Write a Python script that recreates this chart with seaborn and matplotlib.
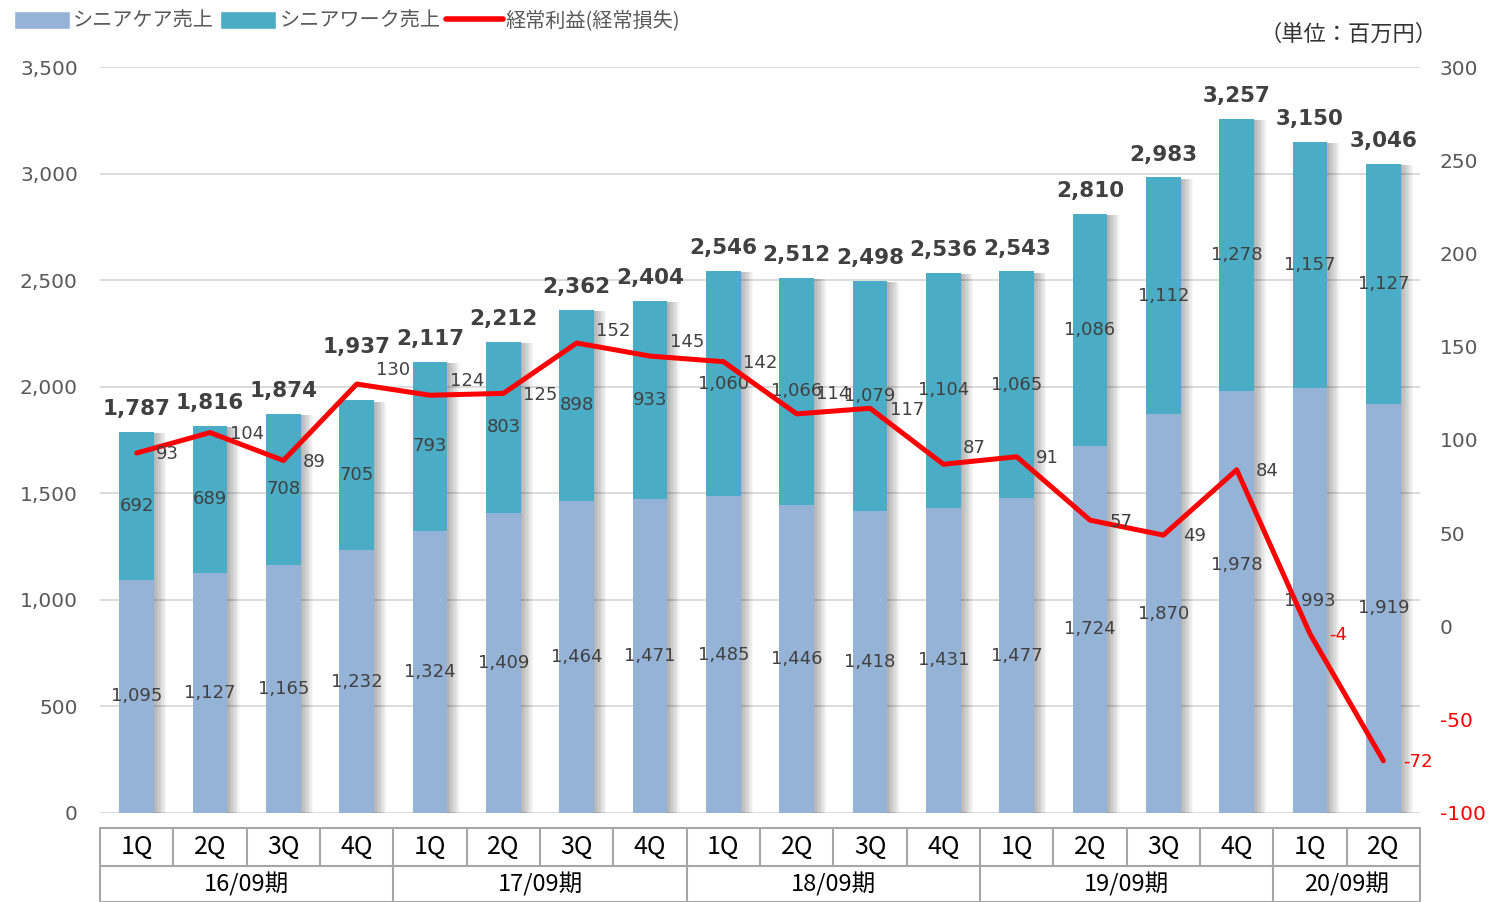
import numpy as np
import pandas as pd
import matplotlib.pyplot as plt
import matplotlib.patheffects as pe
from matplotlib.patches import Patch
from matplotlib.lines import Line2D
import seaborn as sns

# データ（単位：百万円）
quarters = ['1Q', '2Q', '3Q', '4Q'] * 4 + ['1Q', '2Q']
periods = ['16/09期', '17/09期', '18/09期', '19/09期', '20/09期']
period_len = [4, 4, 4, 4, 2]
care = [1095, 1127, 1165, 1232, 1324, 1409, 1464, 1471, 1485,
        1446, 1418, 1431, 1477, 1724, 1870, 1978, 1993, 1919]
work = [692, 689, 708, 705, 793, 803, 898, 933, 1060,
        1066, 1079, 1104, 1065, 1086, 1112, 1278, 1157, 1127]
total = [1787, 1816, 1874, 1937, 2117, 2212, 2362, 2404, 2546,
         2512, 2498, 2536, 2543, 2810, 2983, 3257, 3150, 3046]
profit = [93, 104, 89, 130, 124, 125, 152, 145, 142,
          114, 117, 87, 91, 57, 49, 84, -4, -72]

sns.set_style('white')
plt.rcParams['font.family'] = ['Noto Sans CJK JP', 'DejaVu Sans']

C_CARE = '#95B3D7'
C_WORK = '#4BACC6'
C_TXT = '#404040'
C_TICK = '#595959'
NUM = 'DejaVu Sans'

df = pd.DataFrame({'idx': range(len(care)), 'care': care, 'work': work})
df['stack'] = df['care'] + df['work']

fig = plt.figure(figsize=(14.89, 9.02), dpi=100)
ax = fig.add_axes([0.0672, 0.0987, 0.8865, 0.827])

# 積み上げ棒（合計をワーク色で描き、その上にケアを重ねる）
sns.barplot(data=df, x='idx', y='stack', color=C_WORK, saturation=1,
            width=0.47, linewidth=0, edgecolor='none', ax=ax)
shadow = [pe.SimplePatchShadow(offset=(k, -1), shadow_rgbFace='k', alpha=0.035)
          for k in range(1, 10)] + [pe.Normal()]
for p in ax.patches:
    p.set_path_effects(shadow)
sns.barplot(data=df, x='idx', y='care', color=C_CARE, saturation=1,
            width=0.47, linewidth=0, edgecolor='none', ax=ax)

ax.set_ylim(0, 3500)
ax.set_xlim(-0.5, len(care) - 0.5)
ax.set_yticks(range(0, 3501, 500))
ax.set_yticklabels([f'{v:,}' for v in range(0, 3501, 500)], family=NUM)
ax.tick_params(axis='y', length=0, pad=16, labelsize=14.5, labelcolor=C_TICK)
ax.tick_params(axis='x', length=0, labelbottom=False)
ax.set_xlabel('')
ax.set_ylabel('')
ax.yaxis.grid(True, color='#D9D9D9', lw=1.3)
ax.set_axisbelow(True)
for s in ax.spines.values():
    s.set_visible(False)

# 棒のラベル
care_lift = {15: 27}
total_lift = {3: 22}
for i in range(len(care)):
    ax.annotate(f'{care[i]:,}', (i, care[i] / 2), xytext=(0, care_lift.get(i, 0)),
                textcoords='offset points', ha='center', va='center',
                fontsize=13, color=C_TXT, family=NUM)
    ax.text(i, care[i] + work[i] / 2, f'{work[i]:,}', ha='center', va='center',
            fontsize=13, color=C_TXT, family=NUM)
    ax.annotate(f'{total[i]:,}', (i, care[i] + work[i]),
                xytext=(0, 12 + total_lift.get(i, 0)),
                textcoords='offset points', ha='center', va='baseline',
                fontsize=15.5, fontweight='bold', color=C_TXT, family=NUM)

# 経常利益（右軸）
ax2 = ax.twinx()
sns.lineplot(x=list(range(len(profit))), y=profit, color='#FF0000', lw=3.6,
             ax=ax2)
ax2.set_ylim(-100, 300)
ax2.set_xlim(-0.5, len(care) - 0.5)
ax2.set_yticks(range(-100, 301, 50))
ax2.set_yticklabels([str(v) for v in range(-100, 301, 50)], family=NUM)
ax2.tick_params(axis='y', length=0, pad=14, labelsize=14.5)
for lab, v in zip(ax2.get_yticklabels(), range(-100, 301, 50)):
    lab.set_color('#FF0000' if v < 0 else C_TICK)
ax2.set_ylabel('')
for s in ax2.spines.values():
    s.set_visible(False)

lift = {3: 10, 4: 10, 6: 9, 7: 10, 9: 14, 11: 12}
for i, v in enumerate(profit):
    ax2.annotate(str(v), (i, v), xytext=(14, lift.get(i, -1)),
                 textcoords='offset points', ha='left', va='center',
                 fontsize=13, color='#FF0000' if v < 0 else C_TXT,
                 family=NUM)

# 下部の表（四半期・期）
tr = ax.get_xaxis_transform()
y_top, y_mid, y_bot = -0.0201, -0.0710, -0.1193
line_kw = dict(color='#A6A6A6', lw=1.5, transform=tr, clip_on=False)
n = len(care)
for y in (y_top, y_mid, y_bot):
    ax.plot([-0.5, n - 0.5], [y, y], **line_kw)
for i in range(n + 1):
    ax.plot([i - 0.5, i - 0.5], [y_top, y_mid], **line_kw)
start = 0
bounds = [0]
for name, ln in zip(periods, period_len):
    ax.text(start + (ln - 1) / 2, (y_mid + y_bot) / 2, name, transform=tr,
            ha='center', va='center', fontsize=17, color='black')
    start += ln
    bounds.append(start)
for b in bounds:
    ax.plot([b - 0.5, b - 0.5], [y_mid, y_bot], **line_kw)
for i, q in enumerate(quarters):
    ax.text(i, (y_top + y_mid) / 2, q, transform=tr, ha='center', va='center',
            fontsize=18, color='black')

# 凡例と単位
handles = [Patch(facecolor=C_CARE), Patch(facecolor=C_WORK),
           Line2D([], [], color='#FF0000', lw=4)]
fig.legend(handles, ['シニアケア売上', 'シニアワーク売上', '経常利益(経常損失)'],
           loc='upper left', bbox_to_anchor=(-0.003, 1.008), ncol=3,
           frameon=False, fontsize=14.5, handlelength=2.8, handleheight=1.0,
           columnspacing=0.3, handletextpad=0.15, labelcolor=C_TICK)
fig.text(0.9655, 0.962, '（単位：百万円）', ha='right', va='center',
         fontsize=16, color='#333333')

fig.savefig('out.png', dpi=100)
